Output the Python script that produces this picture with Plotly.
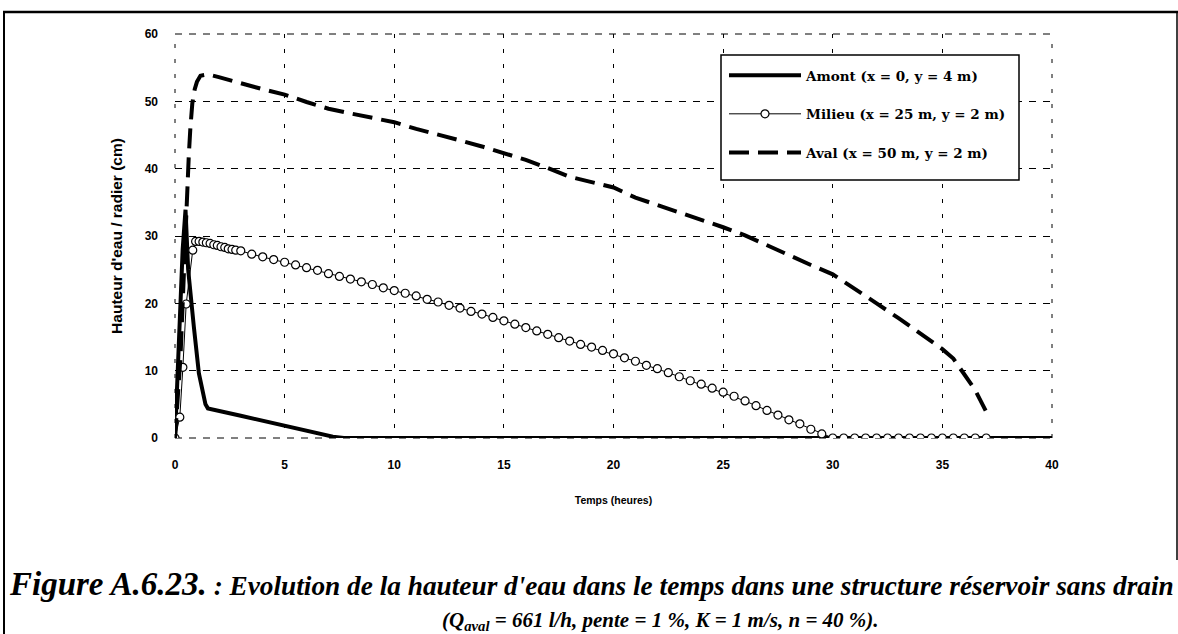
import plotly.graph_objects as go

# ---------------- data ----------------
amont_x = [0, 0.2, 0.35, 0.48, 0.6, 0.86, 1.09, 1.39, 1.5, 3.0, 4.2, 5.7, 7.2, 7.7, 40]
amont_y = [0, 16, 28, 33.9, 25, 16.5, 9.6, 5.0, 4.4, 3.3, 2.4, 1.4, 0.2, 0, 0]

milieu_x = [0, 0.22, 0.36, 0.51, 0.81, 0.94,
            1.1, 1.27, 1.43, 1.6, 1.77, 1.93, 2.1, 2.27, 2.43, 2.6, 2.77,
            3.0, 3.5, 4.0, 4.5, 5.0, 5.5, 6.0, 6.5, 7.0, 7.5, 8.0, 8.5, 9.0, 9.5,
            10.0, 10.5, 11.0, 11.5, 12.0, 12.5, 13.0, 13.5, 14.0, 14.5,
            15.0, 15.5, 16.0, 16.5, 17.0, 17.5, 18.0, 18.5, 19.0, 19.5,
            20.0, 20.5, 21.0, 21.5, 22.0, 22.5, 23.0, 23.5, 24.0, 24.5,
            25.0, 25.5, 26.0, 26.5, 27.0, 27.5, 28.0, 28.5, 29.0, 29.5,
            30.0, 30.5, 31.0, 31.5, 32.0, 32.5, 33.0, 33.5, 34.0, 34.5,
            35.0, 35.5, 36.0, 36.5, 37.0]
milieu_y = [0, 3.1, 10.5, 19.9, 27.9, 29.2,
            29.2, 29.1, 29.0, 28.9, 28.7, 28.6, 28.4, 28.3, 28.1, 28.0, 27.9,
            27.8, 27.3, 26.9, 26.5, 26.1, 25.7, 25.3, 24.9, 24.4, 24.0, 23.6, 23.2, 22.8, 22.3,
            21.9, 21.5, 21.1, 20.6, 20.2, 19.7, 19.3, 18.8, 18.4, 17.9,
            17.4, 16.9, 16.4, 15.9, 15.4, 14.9, 14.4, 13.9, 13.5, 13.0,
            12.5, 11.9, 11.4, 10.8, 10.3, 9.7, 9.1, 8.5, 8.0, 7.4,
            6.8, 6.2, 5.5, 4.8, 4.1, 3.4, 2.7, 2.1, 1.3, 0.6,
            0, 0, 0, 0, 0, 0, 0, 0, 0, 0,
            0, 0, 0, 0, 0]

aval_x = [0, 0.25, 0.45, 0.55, 0.63, 0.7, 0.79, 0.9, 1.0, 1.16, 1.5, 2.0, 2.5, 3.0,
          4.0, 5.0, 6.0, 7.0, 8.0, 9.0, 10.0, 11.0, 12.0, 13.0, 14.0, 15.0, 16.0,
          17.0, 18.0, 19.0, 20.0, 21.0, 22.0, 23.0, 24.0, 25.0, 26.0, 27.0, 28.0,
          29.0, 30.0, 31.0, 32.0, 33.0, 34.0, 35.0, 35.5, 36.0, 36.5, 37.0]
aval_y = [0, 12, 28, 36.8, 42, 46, 49.7, 51.8, 52.9, 53.8, 54.0, 53.6, 53.1, 52.7,
          51.8, 51.0, 49.9, 48.9, 48.2, 47.5, 46.9, 45.9, 45.1, 44.2, 43.3, 42.3, 41.3,
          40.1, 38.8, 38.0, 37.2, 35.7, 34.6, 33.6, 32.5, 31.3, 30.1, 28.6, 27.1,
          25.7, 24.3, 22.2, 20.0, 17.8, 15.5, 13.2, 11.8, 9.5, 7.1, 3.9]

x_ticks = [0, 5, 10, 15, 20, 25, 30, 35, 40]
y_ticks = [0, 10, 20, 30, 40, 50, 60]

names = ["Amont (x = 0, y = 4 m)", "Milieu (x = 25 m, y = 2 m)", "Aval (x = 50 m, y = 2 m)"]
x_title = "Temps (heures)"
y_title = "Hauteur d'eau / radier (cm)"
caption_fig = "Figure A.6.23."
caption_1 = " : Evolution de la hauteur d'eau dans le temps dans une structure réservoir sans drain"
caption_2 = "(Q<sub>aval</sub> = 661 l/h, pente = 1 %, K = 1 m/s, n = 40 %)."

# ---------------- figure ----------------
W, H = 1178, 634
L, R, T, B = 175, 126, 34, 196
pw, ph = W - L - R, H - T - B

def px(x):
    return (x - L) / pw

def py(y):
    return (H - B - y) / ph

fig = go.Figure()
fig.add_trace(go.Scatter(x=amont_x, y=amont_y, mode="lines", name=names[0],
                         legendgroup="a",
                         line=dict(color="black", width=4)))
fig.add_trace(go.Scatter(x=milieu_x, y=milieu_y, mode="lines+markers", name=names[1],
                         legendgroup="m",
                         line=dict(color="black", width=1),
                         marker=dict(symbol="circle", size=8, color="white",
                                     line=dict(color="black", width=1.2))))
fig.add_trace(go.Scatter(x=aval_x, y=aval_y, mode="lines", name=names[2],
                         legendgroup="v",
                         line=dict(color="black", width=4, dash="20px,9px")))

tickfont = dict(family="Arial", size=12, color="black", weight="bold")
vdash = "4px,11px"
hdash = "7px,7px"

fig.update_xaxes(range=[0, 40], tickvals=x_ticks, ticktext=[str(v) for v in x_ticks],
                 showgrid=True, gridcolor="black", gridwidth=1, griddash=vdash,
                 zeroline=False, showline=False, ticks="",
                 tickfont=tickfont, ticklabelstandoff=18,
                 title=dict(text=x_title, standoff=25,
                            font=dict(family="Arial", size=10.5, color="black", weight="bold")))
fig.update_yaxes(range=[0, 60], tickvals=y_ticks, ticktext=[str(v) for v in y_ticks],
                 showgrid=True, gridcolor="black", gridwidth=1, griddash=hdash,
                 zeroline=False, showline=False, ticks="",
                 tickfont=tickfont, ticklabelstandoff=16,
                 title=dict(text=y_title, standoff=18,
                            font=dict(family="Arial", size=15.5, color="black", weight="bold")))

fig.update_layout(
    width=W, height=H, autosize=False,
    margin=dict(l=L, r=R, t=T, b=B),
    paper_bgcolor="white", plot_bgcolor="white",
    showlegend=True,
    legend=dict(x=px(724), y=py(60), xanchor="left", yanchor="top",
                bgcolor="rgba(0,0,0,0)", borderwidth=0,
                font=dict(family="DejaVu Serif", size=13.5, color="black", weight="bold"),
                itemwidth=72, tracegroupgap=18, traceorder="grouped",
                itemclick=False),
    annotations=[
        dict(xref="paper", yref="paper", x=px(7), y=py(584), xanchor="left", yanchor="middle",
             showarrow=False,
             text="<b><i><span style='font-size:33px'>" + caption_fig + "</span>" + caption_1 + "</i></b>",
             font=dict(family="Liberation Serif", size=27.3, color="black")),
        dict(xref="paper", yref="paper", x=px(660), y=py(621), xanchor="center", yanchor="middle",
             showarrow=False,
             text="<b><i>" + caption_2 + "</i></b>",
             font=dict(family="Liberation Serif", size=21, color="black")),
    ],
    shapes=[
        # outer frame of the scanned figure
        dict(type="line", xref="paper", yref="paper", x0=px(3), x1=px(1178), y0=py(12), y1=py(12),
             line=dict(color="black", width=2.5)),
        dict(type="line", xref="paper", yref="paper", x0=px(4), x1=px(4), y0=py(12), y1=py(640),
             line=dict(color="black", width=2)),
        dict(type="line", xref="paper", yref="paper", x0=px(1177), x1=px(1177), y0=py(12), y1=py(560),
             line=dict(color="black", width=1.5)),
        # dashed border of the plotting area
        dict(type="line", xref="paper", yref="paper", x0=0, x1=1, y0=1, y1=1, layer="below",
             line=dict(color="black", width=1, dash=hdash)),
        dict(type="line", xref="paper", yref="paper", x0=0, x1=1, y0=0, y1=0, layer="below",
             line=dict(color="black", width=1, dash=hdash)),
        dict(type="line", xref="paper", yref="paper", x0=0, x1=0, y0=0, y1=1, layer="below",
             line=dict(color="black", width=1, dash=vdash)),
        dict(type="line", xref="paper", yref="paper", x0=1, x1=1, y0=0, y1=1, layer="below",
             line=dict(color="black", width=1, dash=vdash)),
        # legend box
        dict(type="rect", xref="paper", yref="paper", x0=px(721), x1=px(1019), y0=py(180), y1=py(55),
             layer="above", fillcolor="white", line=dict(color="black", width=1.5)),
    ],
)

fig.write_html("out.html", config={"displayModeBar": False},
               post_script="document.body.style.margin='0';document.body.style.padding='0';")
